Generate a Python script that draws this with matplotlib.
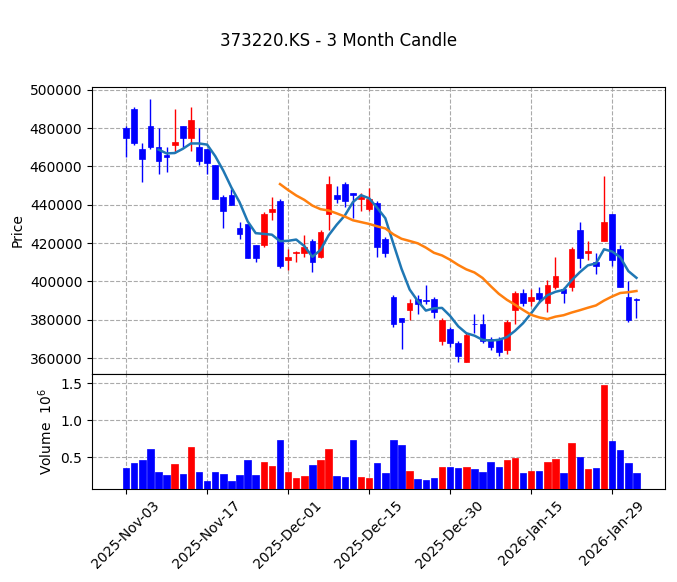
import matplotlib
matplotlib.use("Agg")
import matplotlib.pyplot as plt
import numpy as np
import pandas as pd

bd = pd.bdate_range("2025-11-03", "2026-02-03")
dates = [d for d in bd if d.strftime("%Y-%m-%d") not in ("2025-12-25", "2025-12-31", "2026-01-01")]

opens = [480,490,469,481,470,466,471,481,475,470,469,461,444,445,428,430,419,419,436,442,
         411,415,415,421,413,435,445,451,446,443,438,441,422,392,381,385,391,390.5,391,369,
         375,368,358,378,378,370,370,364,385,394,390,394,389,397,396,397,427,415,410,421,
         435,417,392,391]
closes = [475,472,464,470,463,465,473,475,484,463,462,443,437,440,425,412,412,435,438,408,
          413,415.3,418,410,426,451,443,442,445,444,443,418,415,378,379,389,388,390,384,380,
          368,361,372,377.7,369,366,363,379,394,389,392,391,398,403,394,417,412,416,408,431,
          411,397,380,390.5]
highs = [481,491,472,495,480,470,490,481,491,480,469,461,445,448,431,430,419,436,444,443,
         417,416,424,422,427,455,450,452,446,446,449,442,423,393,381,391,393,398,392,381,
         376,369,373,383,383,371,371,380,395,396,396,397,401,413,397,418,431,421,415,455,
         435,419,400,391.5]
lows = [465,471,452,469,456,457,467,470,468,461,456,443,428,440,422,412,410,418,432,407,
        406,410,413,405,412,427,441,439,433,437,437,413,413,376,365,380,383,388,381,367,
        366,358,358,373,368,364,361,362,378,387,387,389,384,396,389,395,407,411,404,421,
        408,397,379,381]
volumes = [0.35,0.42,0.46,0.61,0.30,0.26,0.41,0.27,0.64,0.30,0.18,0.30,0.27,0.18,0.26,0.46,
           0.26,0.43,0.38,0.73,0.30,0.22,0.24,0.39,0.46,0.61,0.24,0.23,0.73,0.23,0.22,0.42,
           0.28,0.73,0.66,0.31,0.20,0.19,0.22,0.36,0.36,0.35,0.36,0.34,0.30,0.43,0.36,0.46,
           0.49,0.28,0.31,0.31,0.43,0.47,0.28,0.69,0.50,0.34,0.35,1.47,0.72,0.59,0.42,0.28]

o = np.array(opens)*1000; c = np.array(closes)*1000
h = np.array(highs)*1000; l = np.array(lows)*1000
v = np.array(volumes)
n = len(o)
x = np.arange(n)
up = c >= o
cols = np.where(up, "red", "blue")

fig = plt.figure(figsize=(6.77, 5.82), dpi=100)
ax = fig.add_axes([0.136, 0.357, 0.846, 0.494])
axv = fig.add_axes([0.136, 0.160, 0.846, 0.197], sharex=ax)
fig.suptitle("373220.KS - 3 Month Candle", y=0.945, fontsize=12)

ax.vlines(x, l, h, colors=cols, linewidth=1, zorder=2)
bot = np.minimum(o, c); hgt = np.abs(c - o)
hgt = np.where(hgt < 300, 300, hgt)
ax.bar(x, hgt, bottom=bot, width=0.7, color=cols, edgecolor=cols, linewidth=0.5, zorder=3)
s = pd.Series(c)
ax.plot(x, s.rolling(5).mean(), color="#1f77b4", lw=1.8, zorder=4)
ax.plot(x, s.rolling(20).mean(), color="#ff7f0e", lw=1.8, zorder=4)
ax.set_ylim(351600, 501600)
ax.set_xlim(-4.2, 66.5)
ax.set_ylabel("Price")
ax.grid(True, linestyle="--", color="#aaaaaa")
ax.set_axisbelow(True)
plt.setp(ax.get_xticklabels(), visible=False)

axv.bar(x, v, width=0.8, color=cols, edgecolor=cols, linewidth=0.5, zorder=3)
axv.set_ylim(0.07, 1.62)
axv.set_yticks([0.5, 1.0, 1.5])
axv.set_ylabel("Volume  $10^6$")
axv.grid(True, linestyle="--", color="#aaaaaa")
axv.set_axisbelow(True)
ticks = list(range(0, n, 10))
axv.set_xticks(ticks)
axv.set_xticklabels([dates[i].strftime("%Y-%b-%d") for i in ticks], rotation=45, ha="center")
fig.savefig("out.png", dpi=100)
